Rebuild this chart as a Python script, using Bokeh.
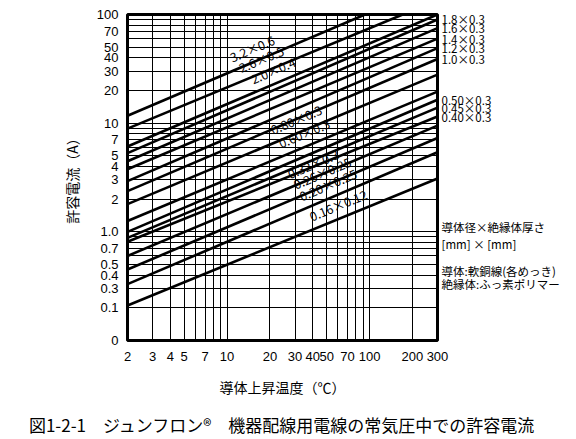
import math
from bokeh.plotting import figure
from bokeh.models import Range1d, FixedTicker, CustomJSTickFormatter, Label, LogAxis
from bokeh.embed import file_html
from bokeh.resources import INLINE

# ---- data ----
sizes = ["3.2×0.6", "2.6×0.5", "2.0×0.4", "1.8×0.3", "1.6×0.3", "1.4×0.3", "1.2×0.3",
         "1.0×0.3", "0.80×0.3", "0.60×0.3", "0.50×0.3", "0.45×0.3", "0.40×0.3",
         "0.32×0.3", "0.26×0.25", "0.20×0.25", "0.16×0.12"]
temp_start = [2, 2, 2, 2, 2, 2, 2, 2, 2, 2, 2, 2, 2, 2, 2, 2, 2]
current_start = [11.7, 8.9, 6.1, 5.3, 4.46, 3.77, 2.93, 2.37, 1.80, 1.26, 1.0, 0.88, 0.81,
                 0.60, 0.45, 0.33, 0.21]
temp_end = [93, 171, 300, 300, 300, 300, 300, 300, 300, 300, 300, 300, 300, 300, 300, 300, 300]
current_end = [100, 100, 100, 90, 75, 60, 49, 39, 28, 19.5, 16.4, 13.9, 11.5, 9.5, 7.3, 5.4, 3.1]

# which series are labelled at the right edge, which inside the plot (with temperature of label)
right_labelled = ["1.8×0.3", "1.6×0.3", "1.4×0.3", "1.2×0.3", "1.0×0.3",
                  "0.50×0.3", "0.45×0.3", "0.40×0.3"]
inside_labelled = ["3.2×0.6", "2.6×0.5", "2.0×0.4", "0.80×0.3", "0.60×0.3",
                   "0.32×0.3", "0.26×0.25", "0.20×0.25", "0.16×0.12"]
inside_label_temp = [15.9, 18.4, 22.3, 32.4, 36.8, 42.6, 49.3, 54.3, 63.8]

x_tick_values = [2, 3, 4, 5, 7, 10, 20, 30, 40, 50, 70, 100, 200, 300]
x_tick_labels = ["2", "3", "4", "5", "7", "10", "20", "30", "40", "50", "70", "100", "200", "300"]
y_tick_values = [100, 70, 50, 40, 30, 20, 10, 7, 5, 4, 3, 2, 1, 0.7, 0.5, 0.4, 0.3, 0.2, 0.1]
y_tick_labels = ["100", "70", "50", "40", "30", "20", "10", "7", "5", "4", "3", "2", "1.0",
                 "0.7", "0.5", "0.4", "0.3", "0.1", "0"]
x_grid_values = [2, 3, 4, 5, 6, 7, 8, 9, 10, 20, 30, 40, 50, 60, 70, 80, 90, 100, 200, 300]
y_grid_values = [0.1, 0.2, 0.3, 0.4, 0.5, 0.6, 0.7, 0.8, 0.9,
                 1, 2, 3, 4, 5, 6, 7, 8, 9,
                 10, 20, 30, 40, 50, 60, 70, 80, 90, 100]

x_title = "導体上昇温度（℃）"
y_title = "許容電流（A）"
caption = "図1-2-1　ジュンフロン®　機器配線用電線の常気圧中での許容電流"
notes = ["導体径×絶縁体厚さ", "[mm] × [mm]", "導体:軟銅線(各めっき)", "絶縁体:ふっ素ポリマー"]
notes_at = [1.106, 0.778, 0.432, 0.328]   # current level beside which each note sits

# ---- figure ----
NUM_FONT = "Liberation Sans"
JP_FONT = "Noto Sans CJK JP"

p = figure(width=576, height=439, x_axis_type="log", y_axis_type="log",
           x_range=Range1d(2, 300), y_range=Range1d(0.1, 100),
           output_backend="svg", toolbar_location=None,
           min_border_left=127, min_border_right=139, min_border_top=14, min_border_bottom=97)
p.background_fill_color = "white"
p.border_fill_color = "white"
p.outline_line_color = "black"
p.outline_line_width = 3

fmt_code = """
const i = vals.findIndex(v => Math.abs(v - tick) < 1e-6 * Math.max(1, Math.abs(v)));
return i < 0 ? "" : labs[i];
"""
xax = p.below[0]
yax = p.left[0]
xax.ticker = FixedTicker(ticks=x_tick_values)
xax.formatter = CustomJSTickFormatter(args=dict(vals=x_tick_values, labs=x_tick_labels), code=fmt_code)
yax.ticker = FixedTicker(ticks=y_tick_values)
yax.formatter = CustomJSTickFormatter(args=dict(vals=y_tick_values, labs=y_tick_labels), code=fmt_code)

# right-hand axis carrying the size labels at the line ends and the notes
right_vals = [current_end[sizes.index(n)] for n in right_labelled] + notes_at
right_labs = right_labelled + notes
raxis = LogAxis(ticker=FixedTicker(ticks=right_vals),
                formatter=CustomJSTickFormatter(args=dict(vals=right_vals, labs=right_labs), code=fmt_code))
p.add_layout(raxis, "right")

# second bottom axis that only carries the figure caption
cap_axis = LogAxis(ticker=FixedTicker(ticks=[]), axis_label=caption)
p.add_layout(cap_axis, "below")

for ax in (xax, yax, raxis, cap_axis):
    ax.axis_line_color = None
    ax.major_tick_line_color = None
    ax.minor_tick_line_color = None
    ax.major_tick_in = 0
    ax.major_tick_out = 0
    ax.minor_tick_in = 0
    ax.minor_tick_out = 0
    ax.major_label_text_color = "black"
for ax in (xax, yax):
    ax.major_label_text_font = NUM_FONT
    ax.major_label_text_font_size = "13px"
xax.major_label_standoff = 11
yax.major_label_standoff = 9
raxis.major_label_text_font = JP_FONT
raxis.major_label_text_font_size = "11.5px"
raxis.major_label_standoff = 4
cap_axis.major_label_standoff = 0

xax.axis_label = x_title
yax.axis_label = y_title
for ax in (xax, yax, cap_axis):
    ax.axis_label_text_font = JP_FONT
    ax.axis_label_text_font_size = "14px"
    ax.axis_label_text_font_style = "normal"
    ax.axis_label_text_color = "black"
cap_axis.axis_label_text_font_size = "17px"
xax.axis_label_standoff = 13
yax.axis_label_standoff = 12
cap_axis.axis_label_standoff = 12

p.xgrid.ticker = FixedTicker(ticks=x_grid_values)
p.ygrid.ticker = FixedTicker(ticks=y_grid_values)
for g in (p.xgrid, p.ygrid):
    g.grid_line_color = "black"
    g.grid_line_alpha = 1.0
    g.grid_line_width = 1

# ---- curves ----
xs = [[a, b] for a, b in zip(temp_start, temp_end)]
ys = [[a, b] for a, b in zip(current_start, current_end)]
p.multi_line(xs=xs, ys=ys, line_color="black", line_width=2.6)

# pixels per decade on each axis (frame 310 x 328 px)
PX_X = 310 / math.log10(300 / 2)
PX_Y = 328 / math.log10(100 / 0.1)

# inside labels along the lines
for name, t in zip(inside_labelled, inside_label_temp):
    i = sizes.index(name)
    s = math.log10(current_end[i] / current_start[i]) / math.log10(temp_end[i] / temp_start[i])
    c = current_start[i] * (t / temp_start[i]) ** s
    ang = math.atan(s * PX_Y / PX_X)
    p.add_layout(Label(x=t, y=c, text=name, angle=ang, y_offset=4,
                       text_font=JP_FONT, text_font_size="12.5px", text_color="black",
                       text_align="center", text_baseline="bottom"))

open("out.html", "w").write(file_html(p, INLINE))
